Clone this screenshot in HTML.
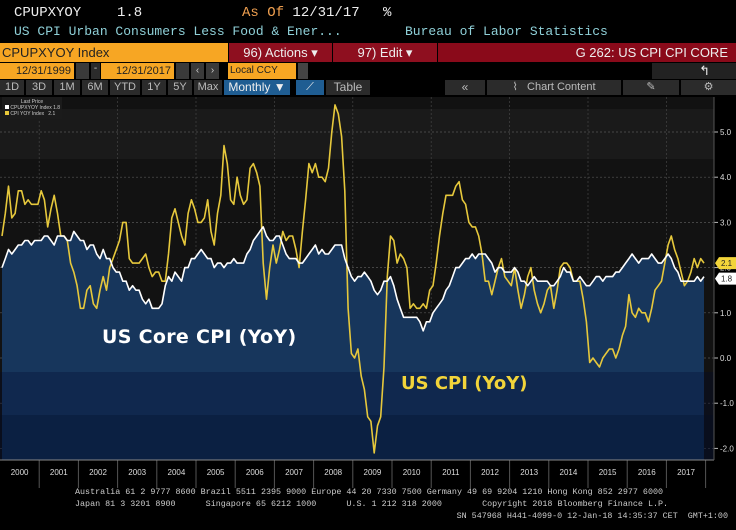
<!DOCTYPE html>
<html><head><meta charset="utf-8"><style>
*{margin:0;padding:0;box-sizing:border-box}
body{width:736px;height:530px;background:#000;overflow:hidden;position:relative;font-family:"Liberation Sans",sans-serif;color:#ddd}
.a{position:absolute;white-space:nowrap}
.mono{font-family:"Liberation Mono",monospace}
.btn{position:absolute;top:80px;height:15px;background:#2b2b2b;color:#bbb;font-size:11px;line-height:15px;text-align:center}
.or{background:#f7a623;color:#222}
</style></head><body>
<div class="a mono" style="left:14px;top:5px;font-size:14px;color:#eee">CPUPXYOY</div>
<div class="a mono" style="left:117px;top:5px;font-size:14px;color:#eee">1.8</div>
<div class="a mono" style="left:242px;top:5px;font-size:14px;color:#f0a050">As Of <span style="color:#eee">12/31/17</span></div>
<div class="a mono" style="left:383px;top:5px;font-size:14px;color:#eee">%</div>
<div class="a mono" style="left:14px;top:24px;font-size:13px;color:#8fd0d8">US CPI Urban Consumers Less Food &amp; Ener...</div>
<div class="a mono" style="left:405px;top:24px;font-size:13px;color:#8fd0d8">Bureau of Labor Statistics</div>

<div class="a or" style="left:0;top:43px;width:228px;height:19px;font-size:13px;line-height:19px;padding-left:2px">CPUPXYOY Index</div>
<div class="a" style="left:229px;top:43px;width:103px;height:19px;background:#8e0f1f;color:#eee;font-size:13px;line-height:19px;text-align:center">96) Actions ▾</div>
<div class="a" style="left:333px;top:43px;width:104px;height:19px;background:#8e0f1f;color:#eee;font-size:13px;line-height:19px;text-align:center">97) Edit ▾</div>
<div class="a" style="left:438px;top:43px;width:298px;height:19px;background:#8a0a1a;color:#eee;font-size:13px;line-height:19px;text-align:right;padding-right:8px">G 262: US CPI CPI CORE</div>

<div class="a or" style="left:0;top:63px;width:74px;height:16px;font-size:11px;line-height:16px;text-align:right;padding-right:3px">12/31/1999</div>
<div class="a" style="left:76px;top:63px;width:13px;height:16px;background:#3a3a3a"></div>
<div class="a" style="left:91px;top:63px;width:9px;height:16px;background:#2b2b2b;color:#ccc;font-size:10px;text-align:center">-</div>
<div class="a or" style="left:101px;top:63px;width:73px;height:16px;font-size:11px;line-height:16px;text-align:right;padding-right:3px">12/31/2017</div>
<div class="a" style="left:176px;top:63px;width:13px;height:16px;background:#3a3a3a"></div>
<div class="a" style="left:191px;top:63px;width:13px;height:16px;background:#3a3a3a;color:#ccc;font-size:10px;text-align:center;line-height:16px">‹</div>
<div class="a" style="left:206px;top:63px;width:13px;height:16px;background:#3a3a3a;color:#ccc;font-size:10px;text-align:center;line-height:16px">›</div>
<div class="a or" style="left:228px;top:63px;width:68px;height:16px;font-size:10px;line-height:16px;padding-left:2px">Local CCY</div>
<div class="a" style="left:298px;top:63px;width:10px;height:16px;background:#444"></div>
<div class="a" style="left:652px;top:63px;width:84px;height:16px;background:#222;color:#eee;font-size:13px;line-height:16px;text-align:right;padding-right:26px">↰</div>

<div class="btn" style="left:0;width:24px">1D</div>
<div class="btn" style="left:26px;width:26px">3D</div>
<div class="btn" style="left:54px;width:26px">1M</div>
<div class="btn" style="left:82px;width:26px">6M</div>
<div class="btn" style="left:110px;width:30px">YTD</div>
<div class="btn" style="left:142px;width:24px">1Y</div>
<div class="btn" style="left:168px;width:24px">5Y</div>
<div class="btn" style="left:194px;width:28px">Max</div>
<div class="btn" style="left:224px;width:66px;background:#1f5d92;color:#eee;font-size:12px">Monthly ▼</div>
<div class="btn" style="left:296px;width:28px;background:#1f5d92;color:#eee">⟋</div>
<div class="btn" style="left:326px;width:44px;font-size:12px">Table</div>
<div class="btn" style="left:445px;width:40px;font-size:12px">«</div>
<div class="btn" style="left:487px;width:134px;font-size:11px">⌇ &nbsp; Chart Content</div>
<div class="btn" style="left:623px;width:56px">✎</div>
<div class="btn" style="left:681px;width:55px">⚙</div>

<svg class="a" style="left:0;top:0" width="736" height="530" id="chart">
<g id="bg"></g><g id="grid"></g><g id="series"></g><g id="axes"></g>
</svg>

<div class="a" style="left:2px;top:97px;width:60px;height:22px;background:#1b1b1b;font-size:5px;color:#ccc;line-height:6px;padding:2px 3px">
<div style="text-align:center">Last Price</div>
<div><span style="display:inline-block;width:4px;height:4px;background:#fff"></span> CPUPXYOY Index 1.8</div>
<div><span style="display:inline-block;width:4px;height:4px;background:#e8c83a"></span> CPI YOY Index &nbsp; 2.1</div>
</div>
<div class="a" style="left:102px;top:326px;font-family:'DejaVu Sans',sans-serif;font-size:19px;font-weight:bold;color:#fff;letter-spacing:0.3px">US Core CPI (YoY)</div>
<div class="a" style="left:401px;top:373px;font-family:'DejaVu Sans',sans-serif;font-size:18px;font-weight:bold;color:#f2d43a">US CPI (YoY)</div>

<div class="a mono" style="left:75px;top:487px;font-size:8.4px;color:#ccc">Australia 61 2 9777 8600 Brazil 5511 2395 9000 Europe 44 20 7330 7500 Germany 49 69 9204 1210 Hong Kong 852 2977 6000</div>
<div class="a mono" style="left:75px;top:499px;font-size:8.4px;color:#ccc">Japan 81 3 3201 8900 &nbsp; &nbsp; &nbsp;Singapore 65 6212 1000 &nbsp; &nbsp; &nbsp;U.S. 1 212 318 2000 &nbsp; &nbsp; &nbsp; &nbsp;Copyright 2018 Bloomberg Finance L.P.</div>
<div class="a mono" style="right:8px;top:511px;font-size:8.4px;color:#ccc">SN 547968 H441-4099-0 12-Jan-18 14:35:37 CET &nbsp;GMT+1:00</div>

<script>
const years = [2000,2001,2002,2003,2004,2005,2006,2007,2008,2009,2010,2011,2012,2013,2014,2015,2016,2017];
const yTicks = [5,4,3,2,1,0,-1,-2];
const yTickLabels = ["5.0","4.0","3.0","2.0","1.0","0.0","-1.0","-2.0"];
const coreCpi = [
2.0,2.2,2.4,2.3,2.4,2.5,2.5,2.6,2.6,2.5,2.6,2.6,
2.6,2.7,2.7,2.6,2.5,2.7,2.7,2.7,2.6,2.6,2.8,2.7,
2.6,2.6,2.4,2.5,2.5,2.3,2.2,2.4,2.2,2.2,2.0,1.9,
1.9,1.7,1.7,1.5,1.6,1.5,1.5,1.3,1.2,1.3,1.1,1.1,
1.1,1.2,1.6,1.8,1.7,1.9,1.8,1.7,2.0,2.0,2.2,2.2,
2.3,2.4,2.3,2.2,2.2,2.0,2.1,2.1,2.0,2.1,2.1,2.2,
2.1,2.1,2.1,2.3,2.4,2.6,2.7,2.8,2.9,2.7,2.6,2.6,
2.7,2.7,2.5,2.3,2.2,2.2,2.2,2.1,2.1,2.2,2.3,2.4,
2.5,2.3,2.4,2.3,2.3,2.4,2.5,2.5,2.5,2.2,2.0,1.8,
1.7,1.8,1.8,1.9,1.8,1.7,1.5,1.4,1.5,1.7,1.7,1.8,
1.6,1.3,1.1,0.9,0.9,0.9,0.9,0.9,0.8,0.6,0.8,0.8,
1.0,1.1,1.2,1.3,1.5,1.6,1.8,2.0,2.0,2.1,2.2,2.2,
2.3,2.2,2.3,2.3,2.3,2.2,2.1,1.9,2.0,2.0,1.9,1.9,
1.9,2.0,1.9,1.7,1.7,1.6,1.7,1.8,1.7,1.7,1.7,1.7,
1.6,1.6,1.7,1.8,2.0,1.9,1.9,1.7,1.7,1.8,1.7,1.6,
1.6,1.7,1.8,1.8,1.7,1.8,1.8,1.8,1.9,1.9,2.0,2.1,
2.2,2.3,2.2,2.1,2.2,2.2,2.2,2.3,2.2,2.1,2.1,2.2,
2.3,2.2,2.0,1.9,1.7,1.7,1.7,1.7,1.7,1.8,1.7,1.8];
const headlineCpi = [
2.7,3.2,3.8,3.1,3.2,3.7,3.7,3.4,3.5,3.4,3.4,3.4,
3.7,3.5,2.9,3.3,3.6,3.2,2.7,2.7,2.6,2.1,1.9,1.6,
1.1,1.1,1.5,1.6,1.2,1.1,1.5,1.8,1.5,2.0,2.2,2.4,
2.6,3.0,3.0,2.2,2.1,2.1,2.1,2.2,2.3,2.0,1.8,1.9,
1.9,1.7,1.7,2.3,3.1,3.3,3.0,2.7,2.5,3.2,3.5,3.3,
3.0,3.0,3.1,3.5,2.8,2.5,3.2,3.6,4.7,4.3,3.5,3.4,
4.0,3.6,3.4,3.5,4.2,4.3,4.1,3.8,2.1,1.3,2.0,2.5,
2.1,2.4,2.8,2.6,2.7,2.7,2.4,2.0,2.8,3.5,4.3,4.1,
4.3,4.0,4.0,3.9,4.2,5.0,5.6,5.4,4.9,3.7,1.1,0.1,
0.0,0.2,-0.4,-0.7,-1.3,-1.4,-2.1,-1.5,-1.3,-0.2,1.8,2.7,
2.6,2.1,2.3,2.2,2.0,1.1,1.2,1.1,1.1,1.2,1.1,1.5,
1.6,2.1,2.7,3.2,3.6,3.6,3.6,3.8,3.9,3.5,3.4,3.0,
2.9,2.9,2.7,2.3,1.7,1.7,1.4,1.7,2.0,2.2,1.8,1.7,
1.6,2.0,1.5,1.1,1.4,1.8,2.0,1.5,1.2,1.0,1.2,1.5,
1.6,1.1,1.5,2.0,2.1,2.1,2.0,1.7,1.7,1.7,1.3,0.8,
-0.1,0.0,-0.1,-0.2,0.0,0.1,0.2,0.2,0.0,0.2,0.5,0.7,
1.4,1.0,0.9,1.1,1.0,1.0,0.8,1.1,1.5,1.6,1.7,2.1,
2.5,2.7,2.4,2.2,1.9,1.6,1.7,1.9,2.2,2.0,2.2,2.1];

const NS='http://www.w3.org/2000/svg';
const PL=0,PR=714,PT=97,PB=460,YW=39.2;
const yS=v=>358-v*45.2;
const xS=i=>2+i*3.265;
function mk(tag,attrs,parent){const e=document.createElementNS(NS,tag);for(const k in attrs)e.setAttribute(k,attrs[k]);parent.appendChild(e);return e;}
const bg=document.getElementById('bg'),grid=document.getElementById('grid'),ser=document.getElementById('series'),ax=document.getElementById('axes');

let r=mk('rect',{x:PL,y:PT,width:PR-PL,height:PB-PT,fill:'#121212'},bg);

mk('rect',{x:PL,y:PT+12,width:PR-PL,height:50,fill:'#1a1a1a'},bg);

let d='M'+xS(0)+','+PB;
coreCpi.forEach((v,i)=>{d+=' L'+xS(i).toFixed(1)+','+yS(v).toFixed(1);});
d+=' L'+xS(coreCpi.length-1)+','+PB+' Z';
const area=mk('path',{d:d,fill:'#17365c'},ser);


mk('rect',{x:PL,y:372,width:PR-PL,height:43,fill:'#000a30',opacity:0.3},ser);
mk('rect',{x:PL,y:415,width:PR-PL,height:PB-415,fill:'#000a28',opacity:0.5},ser);

yTicks.forEach((v,k)=>{
 const g=mk('line',{x1:PL,x2:PR,y1:yS(v),y2:yS(v),stroke:'#555',"stroke-width":0.7,"stroke-dasharray":'2,2'},grid);
 
 
 mk('line',{x1:PR,x2:PR+4,y1:yS(v),y2:yS(v),stroke:'#bbb',"stroke-width":1},ax);
 const lb=mk('text',{x:PR+6,y:yS(v)+3,fill:'#ddd',"font-size":8,"font-family":'Liberation Sans, sans-serif'},ax);
 lb.textContent=yTickLabels[k];
 
 
});
years.forEach((y,k)=>{
 if(k%2===1){const g=mk('line',{x1:k*YW,x2:k*YW,y1:PT,y2:PB,stroke:'#444',"stroke-width":0.7,"stroke-dasharray":'2,2'},grid);
 
 }
 mk('line',{x1:(k+1)*YW,x2:(k+1)*YW,y1:PB,y2:PB+28,stroke:'#555',"stroke-width":1},ax);
 const lb=mk('text',{x:k*YW+YW/2,y:PB+15,fill:'#ddd',"font-size":8,"text-anchor":'middle',"font-family":'Liberation Sans, sans-serif'},ax);
 lb.textContent=y;
 
 
});
mk('line',{x1:PL,x2:PR,y1:PB,y2:PB,stroke:'#888',"stroke-width":1},ax);
mk('line',{x1:PR,x2:PR,y1:PT,y2:PB,stroke:'#555',"stroke-width":1},ax);

function line(arr,col,name){
 let p='';arr.forEach((v,i)=>{p+=(i?' L':'M')+xS(i).toFixed(1)+','+yS(v).toFixed(1);});
 const e=mk('path',{d:p,fill:'none',stroke:col,"stroke-width":1.6,"stroke-linejoin":'round'},ser);
 
 
}
line(headlineCpi,'#e6c83c','cpi-line');
line(coreCpi,'#ffffff','core-cpi-line');

function tag(v,off,bgc,fg,name){
 const y=yS(v)+off;
 const g=mk('g',{},ax);
 
 
 mk('path',{d:`M${PR+1},${y} L${PR+5},${y-6} L736,${y-6} L736,${y+6} L${PR+5},${y+6} Z`,fill:bgc},g);
 const t=mk('text',{x:PR+7,y:y+3,fill:fg,"font-size":8,"font-family":'Liberation Sans, sans-serif'},g);
 t.textContent=v.toFixed(1);
}
tag(headlineCpi[headlineCpi.length-1],0,'#f2d43a','#222','cpi-last-value-tag');
tag(coreCpi[coreCpi.length-1],2,'#ffffff','#222','core-cpi-last-value-tag');
</script>
</body></html>
